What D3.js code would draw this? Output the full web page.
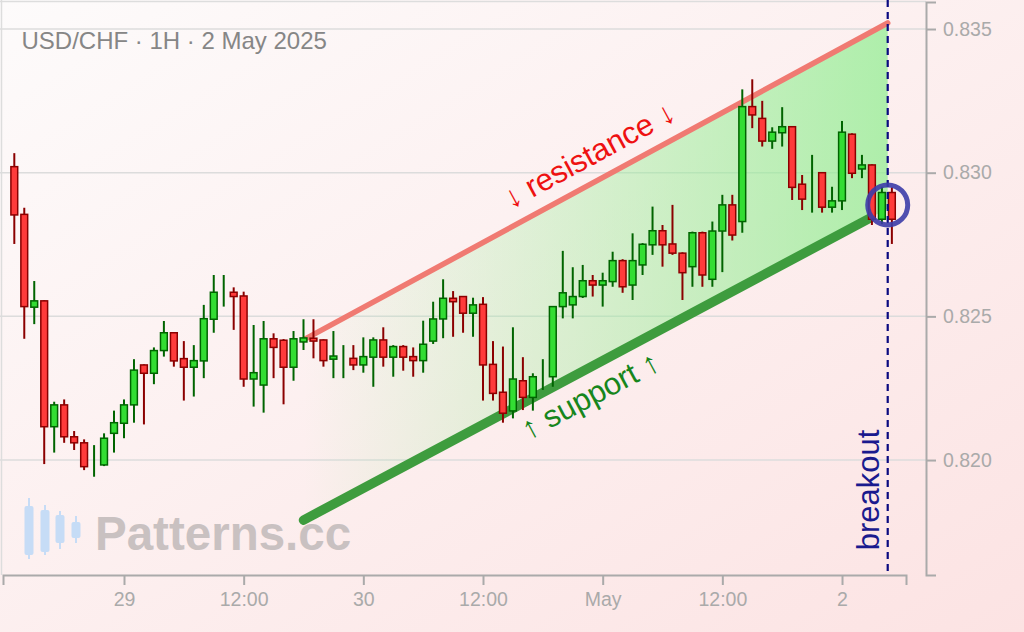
<!DOCTYPE html>
<html><head><meta charset="utf-8">
<script src="https://cdn.jsdelivr.net/npm/d3@7"></script>
<style>html,body{margin:0;padding:0;background:#fff;} svg{display:block;font-family:"Liberation Sans",Arial,sans-serif;}</style>
</head><body><svg id="chart" width="1024" height="632"></svg>
<script>
const title = "USD/CHF · 1H · 2 May 2025";
const startTime = "2025-04-28T13:00:00Z";
const open  = [0.83021,0.82855,0.82532,0.82554,0.82116,0.82192,0.82081,0.82060,0.81976,0.81983,
0.82093,0.82128,0.82192,0.82331,0.82302,0.82381,0.82443,0.82353,0.82323,0.82345,
0.82490,0.82586,0.82584,0.82571,0.82282,0.82261,0.82422,0.82417,0.82323,0.82411,
0.82424,0.82418,0.82351,0.82356,0.82354,0.82331,0.82358,0.82418,0.82358,0.82395,
0.82360,0.82346,0.82414,0.82491,0.82563,0.82569,0.82511,0.82542,0.82333,0.82236,
0.82171,0.82276,0.82218,0.82291,0.82290,0.82534,0.82540,0.82569,0.82624,0.82609,
0.82621,0.82694,0.82609,0.82679,0.82749,0.82798,0.82752,0.82720,0.82673,0.82791,
0.82629,0.82797,0.82888,0.82830,0.83230,0.83189,0.83110,0.83139,0.83160,0.82960,
0.82907,0.83000,0.82880,0.82902,0.83134,0.83013,0.83027,0.82838,0.82931];
const high  = [0.83068,0.82878,0.82623,0.82556,0.82203,0.82211,0.82101,0.82072,0.82052,0.82093,
0.82172,0.82211,0.82351,0.82333,0.82392,0.82484,0.82445,0.82414,0.82400,0.82540,
0.82644,0.82644,0.82601,0.82586,0.82470,0.82484,0.82441,0.82421,0.82449,0.82490,
0.82490,0.82420,0.82449,0.82400,0.82400,0.82427,0.82427,0.82462,0.82400,0.82400,
0.82392,0.82485,0.82551,0.82629,0.82588,0.82571,0.82565,0.82567,0.82414,0.82395,
0.82462,0.82358,0.82302,0.82351,0.82536,0.82728,0.82671,0.82679,0.82644,0.82652,
0.82725,0.82699,0.82789,0.82755,0.82882,0.82818,0.82888,0.82723,0.82795,0.82795,
0.82830,0.82923,0.82923,0.83290,0.83325,0.83250,0.83158,0.83228,0.83162,0.82992,
0.83062,0.83002,0.82951,0.83180,0.83137,0.83062,0.83029,0.82951,0.82949];
const low   = [0.82752,0.82422,0.82473,0.81986,0.82026,0.82060,0.82035,0.81965,0.81942,0.81979,
0.82026,0.82076,0.82130,0.82124,0.82264,0.82360,0.82325,0.82207,0.82221,0.82285,
0.82443,0.82534,0.82453,0.82255,0.82186,0.82165,0.82285,0.82194,0.82276,0.82383,
0.82354,0.82325,0.82285,0.82285,0.82313,0.82304,0.82255,0.82325,0.82290,0.82311,
0.82290,0.82304,0.82404,0.82424,0.82429,0.82443,0.82429,0.82207,0.82207,0.82130,
0.82145,0.82174,0.82172,0.82244,0.82255,0.82493,0.82493,0.82564,0.82569,0.82534,
0.82603,0.82582,0.82557,0.82644,0.82714,0.82673,0.82714,0.82557,0.82603,0.82603,
0.82603,0.82654,0.82764,0.82791,0.83155,0.83091,0.83083,0.83091,0.82905,0.82870,
0.82861,0.82861,0.82861,0.82870,0.82981,0.82981,0.82818,0.82821,0.82752];
const close = [0.82853,0.82534,0.82554,0.82116,0.82192,0.82081,0.82060,0.81977,0.81976,0.82076,
0.82130,0.82192,0.82313,0.82302,0.82381,0.82443,0.82345,0.82323,0.82346,0.82492,
0.82584,0.82586,0.82569,0.82282,0.82304,0.82422,0.82392,0.82323,0.82422,0.82425,
0.82414,0.82346,0.82362,0.82356,0.82331,0.82360,0.82418,0.82358,0.82395,0.82358,
0.82346,0.82403,0.82491,0.82563,0.82551,0.82511,0.82540,0.82331,0.82232,0.82163,
0.82282,0.82218,0.82290,0.82291,0.82534,0.82582,0.82569,0.82624,0.82609,0.82624,
0.82694,0.82603,0.82694,0.82751,0.82798,0.82749,0.82720,0.82652,0.82791,0.82644,
0.82797,0.82888,0.82783,0.83230,0.83201,0.83110,0.83141,0.83160,0.82949,0.82908,
0.82907,0.82880,0.82902,0.83141,0.82998,0.83027,0.82838,0.82931,0.82838];

const yTicks = [0.820, 0.825, 0.830, 0.835];
const xTickTimes = ["2025-04-29T00:00Z","2025-04-29T12:00Z","2025-04-30T00:00Z","2025-04-30T12:00Z","2025-05-01T00:00Z","2025-05-01T12:00Z","2025-05-02T00:00Z"];
const xTickLabels = ["29","12:00","30","12:00","May","12:00","2"];
const resistancePts = [["2025-04-29T18:00Z",0.82418],["2025-05-02T04:35Z",0.83521]];
const supportPts = [["2025-04-29T18:00Z",0.81791],["2025-05-02T02:48Z",0.82842]];
const breakoutTime = "2025-05-02T04:35Z";
const breakoutPrice = 0.82888;
const resistanceLabel = {text:"↓ resistance ↓", time:"2025-04-30T22:38Z", price:0.83062};
const supportLabel = {text:"↑ support ↑", time:"2025-04-30T22:44Z", price:0.82226};

const W = 1024, H = 632;
const svg = d3.select("#chart");
const defs = svg.append("defs");
const bg = defs.append("linearGradient").attr("id","bg").attr("x1",0).attr("y1",0).attr("x2",1).attr("y2",1);
bg.append("stop").attr("offset","0%").attr("stop-color","#fdfbfb");
bg.append("stop").attr("offset","100%").attr("stop-color","#fce3e3");
const ch = defs.append("linearGradient").attr("id","chan").attr("x1",0).attr("y1",0).attr("x2",1).attr("y2",0);
ch.append("stop").attr("offset","0%").attr("stop-color","#90ee90").attr("stop-opacity",0.0);
ch.append("stop").attr("offset","100%").attr("stop-color","#90ee90").attr("stop-opacity",0.72);
svg.append("rect").attr("width",W).attr("height",H).attr("fill","url(#bg)");

const x = d3.scaleUtc().domain([new Date("2025-04-28T11:52Z"), new Date("2025-05-02T06:25Z")]).range([3,906]);
const y = d3.scaleLinear().domain([0.816, 0.83594]).range([575, 2]);

// frame lines
svg.append("line").attr("x1",1.5).attr("x2",1.5).attr("y1",0).attr("y2",575).attr("stroke","#ddd").attr("stroke-width",1.5);
svg.append("line").attr("x1",0).attr("x2",926).attr("y1",1.5).attr("y2",1.5).attr("stroke","#ddd").attr("stroke-width",1.5);
// grid
svg.append("g").selectAll("line").data(yTicks).join("line")
  .attr("x1",0).attr("x2",926).attr("y1",d=>y(d)).attr("y2",d=>y(d))
  .attr("stroke","#dcdcdc").attr("stroke-width",1.5);

// watermark
const wm = svg.append("g");
const icon = [[29,498,559,506,555],[45,505,555,510,552],[60,511,549,515,543],[76,516,543,522,538]];
icon.forEach(c=>{
  wm.append("line").attr("x1",c[0]).attr("x2",c[0]).attr("y1",c[1]).attr("y2",c[2]).attr("stroke","#c6dcf6").attr("stroke-width",2);
  wm.append("rect").attr("x",c[0]-4.5).attr("y",c[3]).attr("width",9).attr("height",c[4]-c[3]).attr("rx",2).attr("fill","#c6dcf6");
});
wm.append("text").attr("x",95).attr("y",550).attr("font-size",47.5).attr("font-weight","bold").attr("fill","#c9c1c1").text("Patterns.cc");

// title
svg.append("text").attr("x",21.5).attr("y",49).attr("font-size",24).attr("fill","#868686").text(title);

const P = a => [x(new Date(a[0])), y(a[1])];
const r0 = P(resistancePts[0]), r1 = P(resistancePts[1]);
const s0 = P(supportPts[0]), s1 = P(supportPts[1]);
const bx = x(new Date(breakoutTime));
const sSlope = (s1[1]-s0[1])/(s1[0]-s0[0]);
const sEnd = [bx, s0[1] + sSlope*(bx - s0[0])];

// channel fill
svg.append("path").attr("d", d3.line()([r0, r1, sEnd, s0]) + "Z").attr("fill","url(#chan)");
// channel lines
svg.append("line").attr("x1",r0[0]).attr("y1",r0[1]).attr("x2",r1[0]).attr("y2",r1[1])
  .attr("stroke","#f07a72").attr("stroke-width",5.5).attr("stroke-linecap","round");
svg.append("line").attr("x1",s0[0]).attr("y1",s0[1]).attr("x2",s1[0]).attr("y2",s1[1])
  .attr("stroke","#3e9c3e").attr("stroke-width",9.5).attr("stroke-linecap","round");

// candles
const data = open.map((o,i)=>({t:d3.utcHour.offset(new Date(startTime), i), o, h:high[i], l:low[i], c:close[i]}));
const cg = svg.append("g");
const candle = cg.selectAll("g").data(data).join("g");
candle.append("line")
  .attr("x1",d=>x(d.t)).attr("x2",d=>x(d.t)).attr("y1",d=>y(d.h)).attr("y2",d=>y(d.l))
  .attr("stroke",d=>d.c>=d.o?"#006400":"#8b0000").attr("stroke-width",2);
candle.filter(d=>Math.abs(y(d.o)-y(d.c))>=1).append("rect")
  .attr("x",d=>x(d.t)-3.4).attr("width",6.8)
  .attr("y",d=>y(Math.max(d.o,d.c)))
  .attr("height",d=>Math.abs(y(d.o)-y(d.c)))
  .attr("fill",d=>d.c>=d.o?"#33dd33":"#ff3b3b")
  .attr("stroke",d=>d.c>=d.o?"#006400":"#8b0000").attr("stroke-width",1.5);

// labels on channel
const angR = Math.atan2(r1[1]-r0[1], r1[0]-r0[0])*180/Math.PI;
const angS = Math.atan2(s1[1]-s0[1], s1[0]-s0[0])*180/Math.PI;
const rl = P([resistanceLabel.time, resistanceLabel.price]);
svg.append("text").attr("transform",`translate(${rl[0]},${rl[1]}) rotate(${angR})`)
  .attr("text-anchor","middle").attr("dy","0.35em").attr("font-size",31).attr("fill","#ee1111").text(resistanceLabel.text);
const sl = P([supportLabel.time, supportLabel.price]);
svg.append("text").attr("transform",`translate(${sl[0]},${sl[1]}) rotate(${angS})`)
  .attr("text-anchor","middle").attr("dy","0.35em").attr("font-size",31).attr("fill","#17861c").text(supportLabel.text);

// breakout
svg.append("line").attr("x1",bx).attr("x2",bx).attr("y1",0).attr("y2",572)
  .attr("stroke","#0a0a80").attr("stroke-width",2.2).attr("stroke-dasharray","7,5");
svg.append("text").attr("transform",`translate(${bx-9},490) rotate(-90)`)
  .attr("text-anchor","middle").attr("font-size",31).attr("fill","#1a1a8e").text("breakout");
svg.append("circle").attr("cx",bx).attr("cy",y(breakoutPrice)).attr("r",20)
  .attr("fill","none").attr("stroke","#3c3ca8").attr("stroke-opacity",0.9).attr("stroke-width",5);

// axes
const xAxis = d3.axisBottom(x).tickValues(xTickTimes.map(d=>new Date(d)))
  .tickFormat((d,i)=>xTickLabels[i]).tickSize(10).tickSizeOuter(10).tickPadding(7);
const gx = svg.append("g").attr("transform","translate(0,575)").call(xAxis);
const yAxis = d3.axisRight(y).tickValues(yTicks).tickFormat(d3.format(".3f")).tickSize(10).tickSizeOuter(10).tickPadding(7);
const gy = svg.append("g").attr("transform","translate(926,0)").call(yAxis);
[gx,gy].forEach(g=>{
  g.select(".domain").attr("stroke","#aaa").attr("stroke-width",2);
  g.selectAll(".tick line").attr("stroke","#aaa").attr("stroke-width",2);
  g.selectAll(".tick text").attr("fill","#aaa").attr("font-size",19.5).attr("font-family","Liberation Sans, Arial, sans-serif");
});
</script></body></html>
